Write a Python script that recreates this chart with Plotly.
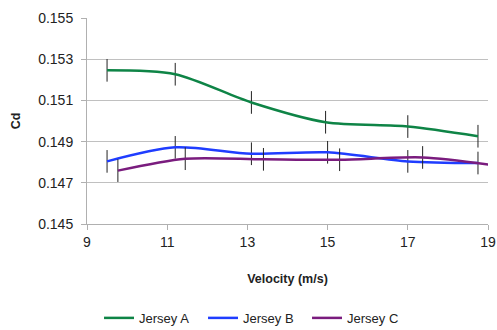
import plotly.graph_objects as go

vel_a = [9.5, 11.2, 13.1, 14.95, 17.0, 18.75]
cd_a = [0.15246, 0.15227, 0.15090, 0.14994, 0.14973, 0.14926]
vel_b = [9.5, 11.2, 13.1, 15.0, 17.0, 18.75]
cd_b = [0.14804, 0.14872, 0.14841, 0.14848, 0.14804, 0.14796]
vel_c = [9.77, 11.45, 13.4, 15.3, 17.37, 19.04]
cd_c = [0.14759, 0.14817, 0.14814, 0.14812, 0.14823, 0.14788]
err = 0.00055

series = [
    ("Jersey A", vel_a, cd_a, "#0E8446"),
    ("Jersey B", vel_b, cd_b, "#1F3DFF"),
    ("Jersey C", vel_c, cd_c, "#7A1C7E"),
]

fig = go.Figure()
for name, xs, ys, col in series:
    fig.add_trace(go.Scatter(
        x=xs, y=ys, name=name, mode="lines",
        line=dict(color=col, width=2.5, shape="spline", smoothing=0.8),
        error_y=dict(type="constant", value=err, color="#222222", thickness=1, width=0),
    ))

font = "Liberation Sans, Arial, sans-serif"
fig.update_layout(
    width=497, height=330,
    margin=dict(l=87, r=9, t=18, b=106, autoexpand=False),
    paper_bgcolor="white", plot_bgcolor="white",
    font=dict(family=font, size=13, color="#222222"),
    showlegend=True,
    legend=dict(orientation="h", x=0.03, xanchor="left", y=-0.456, yanchor="middle",
                font=dict(size=13), itemwidth=30, traceorder="normal",
                entrywidth=59, entrywidthmode="pixels"),
    xaxis=dict(range=[9, 19], tickvals=[9, 11, 13, 15, 17, 19], showgrid=False,
               showline=True, linecolor="#b0b0b0", linewidth=1, ticks="outside",
               ticklen=5, tickcolor="#b0b0b0", zeroline=False,
               tickfont=dict(size=14), ticklabeloverflow="allow",
               title=dict(text="<b>Velocity (m/s)</b>", font=dict(size=12.5), standoff=25)),
    yaxis=dict(range=[0.145, 0.155], tickvals=[0.145, 0.147, 0.149, 0.151, 0.153, 0.155],
               ticktext=["0.145", "0.147", "0.149", "0.151", "0.153", "0.155"],
               tickfont=dict(size=14), ticklabelstandoff=5,
               showgrid=True, gridcolor="#c0c0c0", gridwidth=1,
               showline=True, linecolor="#b0b0b0", linewidth=1, ticks="outside",
               ticklen=5, tickcolor="#b0b0b0", zeroline=False,
               title=dict(text="<b>Cd</b>", font=dict(size=12.5), standoff=14)),
)

fig.write_html("out.html", config={"displayModeBar": False},
               post_script="document.body.style.margin='0';document.body.style.overflow='hidden';")
